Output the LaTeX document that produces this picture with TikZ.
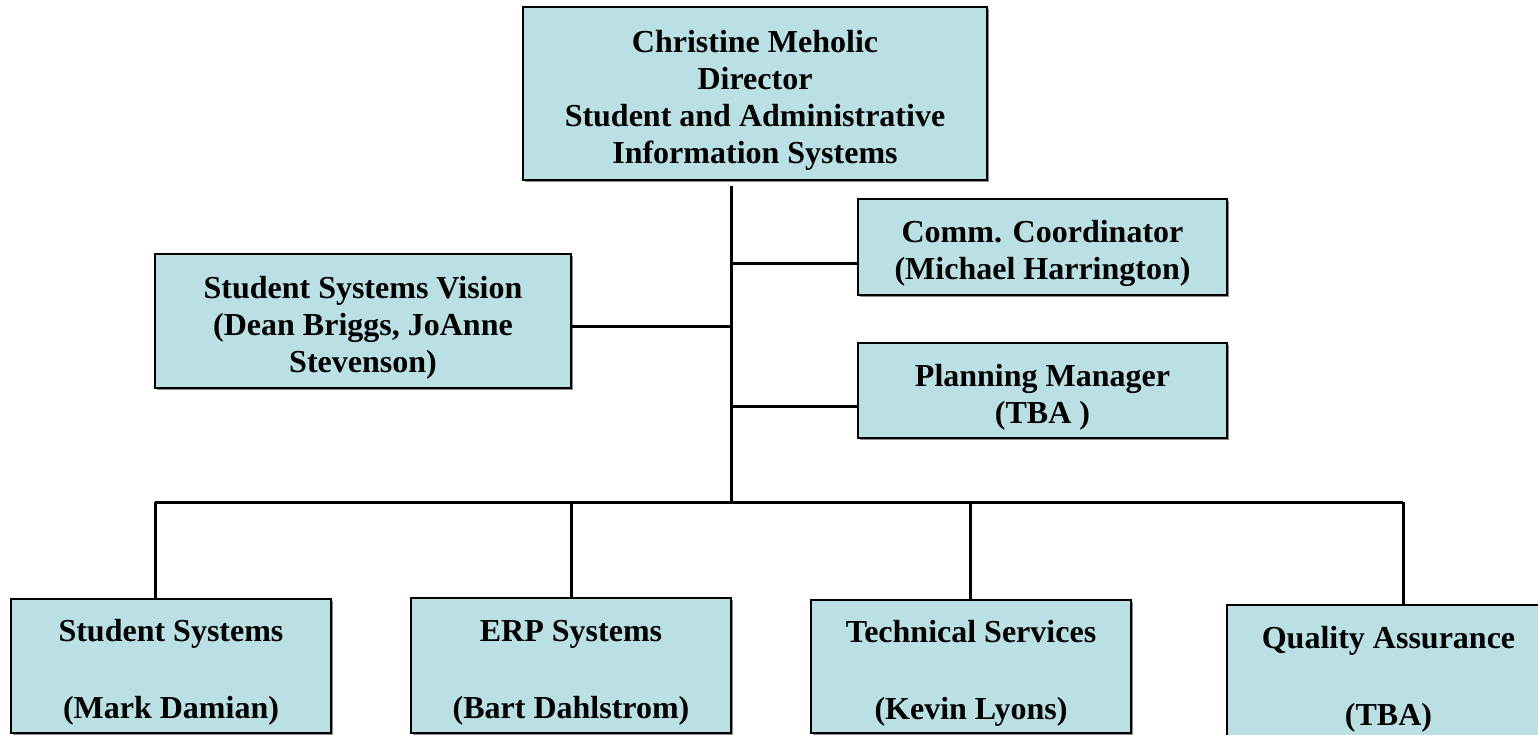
\documentclass[tikz,border=0pt]{standalone}
\usepackage{fontspec}
\setmainfont{Liberation Serif}
\usetikzlibrary{positioning,shadows}
\definecolor{boxfill}{RGB}{186,224,227}
\newcommand\toppad{\rule{0pt}{35pt}}
\tikzset{
	orgbox/.style={draw, line width=2.8pt, fill=boxfill, align=center, inner sep=0pt,
		font=\fontsize{32}{37}\selectfont\bfseries,
		drop shadow={shadow xshift=1.5pt, shadow yshift=-2pt, fill=black!45, opacity=1}},
	orgline/.style={line width=3pt}
}

\begin{document}
\begin{tikzpicture}[x=1pt,y=-1pt]
	\useasboundingbox (0,0) rectangle (1538,735);

	% Director box
	\node[orgbox, minimum width=464pt, minimum height=173pt] (dir) at (755,93.5)
		{\toppad Christine Meholic\\Director\\Student and Administrative\\Information Systems};

	% Staff boxes
	\node[orgbox, minimum width=369pt, minimum height=96pt] (comm) at (1042.5,247)
		{\toppad Comm. Coordinator\\(Michael Harrington)};
	\node[orgbox, minimum width=369pt, minimum height=95pt] (plan) at (1042.5,390.5)
		{\toppad Planning Manager\\(TBA )};
	\node[orgbox, minimum width=416pt, minimum height=134pt] (vision) at (363,321)
		{\toppad Student Systems Vision\\(Dean Briggs, JoAnne\\Stevenson)};

	% Unit boxes
	\node[orgbox, minimum width=320pt, minimum height=134pt] (stud) at (171,666)
		{\toppad Student Systems\\[40pt](Mark Damian)};
	\node[orgbox, minimum width=320pt, minimum height=135pt] (erp) at (571,665.5)
		{\toppad ERP Systems\\[40pt](Bart Dahlstrom)};
	\node[orgbox, minimum width=320pt, minimum height=133pt] (tech) at (971,666.5)
		{\toppad Technical Services\\[40pt](Kevin Lyons)};
	\node[orgbox, minimum width=323pt, minimum height=136pt] (qa) at (1388.5,673)
		{\toppad Quality Assurance\\[40pt](TBA)};

	% Junctions
	\coordinate (jcomm) at (731,263);
	\coordinate (jvision) at (731,326);
	\coordinate (jplan) at (731,406);
	\coordinate (bus) at (731,502);
	\coordinate (dstud) at (155,502);
	\coordinate (derp) at (571,502);
	\coordinate (dtech) at (970,502);
	\coordinate (dqa) at (1403,502);

	% Drawing trunk and branches
	\draw[orgline] (dir.south -| bus) ++(0,5) -- (bus);
	\draw[orgline] (jcomm) -- (jcomm -| comm.west);
	\draw[orgline] (jvision) -- (jvision -| vision.east);
	\draw[orgline] (jplan) -- (jplan -| plan.west);

	% Drawing bus and drops
	\draw[orgline] (dstud) -- (dqa);
	\draw[orgline] (dstud) -- (dstud |- stud.north);
	\draw[orgline] (derp) -- (derp |- erp.north);
	\draw[orgline] (dtech) -- (dtech |- tech.north);
	\draw[orgline] (dqa) -- (dqa |- qa.north);
\end{tikzpicture}
\end{document}
